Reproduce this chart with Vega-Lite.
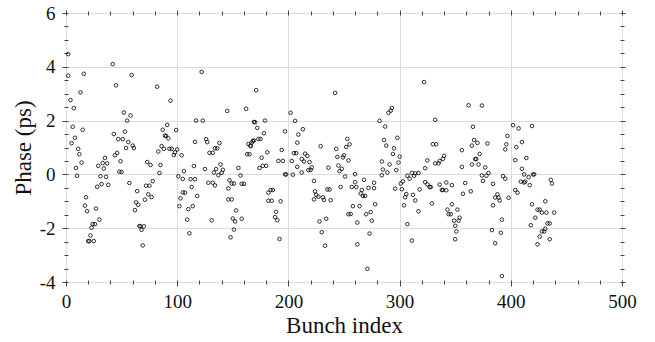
{
 "$schema": "https://vega.github.io/schema/vega-lite/v6.json",
 "width": 556, "height": 269,
 "autosize": {"type": "none"},
 "padding": {"left": 66, "top": 13, "right": 33, "bottom": 60},
 "background": "white",
 "config": {"view": {"stroke": "#444", "strokeWidth": 1}, "font": "Liberation Serif"},
 "data": {"values": [
  {"b":2,"p":4.47},{"b":2,"p":3.67},{"b":42,"p":4.10},{"b":16,"p":3.74},{"b":59,"p":3.69},{"b":45,"p":3.31},{"b":82,"p":3.26},{"b":13,"p":3.05},{"b":4,"p":2.76},{"b":7,"p":2.46},
  {"b":52,"p":2.30},{"b":58,"p":2.19},{"b":55,"p":2.00},{"b":6,"p":1.77},{"b":15,"p":1.66},{"b":43,"p":1.50},{"b":53,"p":1.59},{"b":8,"p":1.36},{"b":47,"p":1.31},{"b":51,"p":1.31},
  {"b":5,"p":1.16},{"b":56,"p":1.20},{"b":60,"p":1.07},{"b":61,"p":0.98},{"b":54,"p":0.98},{"b":11,"p":0.95},{"b":12,"p":0.75},{"b":46,"p":0.80},{"b":44,"p":0.71},{"b":35,"p":0.61},
  {"b":83,"p":0.85},{"b":49,"p":0.49},{"b":14,"p":0.44},{"b":33,"p":0.42},{"b":37,"p":0.41},{"b":29,"p":0.32},{"b":73,"p":0.46},{"b":76,"p":0.35},{"b":34,"p":0.22},{"b":9,"p":0.24},
  {"b":48,"p":0.10},{"b":50,"p":0.09},{"b":10,"p":-0.05},{"b":31,"p":-0.07},{"b":36,"p":-0.09},{"b":57,"p":-0.32},{"b":78,"p":-0.25},{"b":32,"p":-0.36},{"b":38,"p":-0.39},{"b":28,"p":-0.46},
  {"b":72,"p":-0.42},{"b":75,"p":-0.42},{"b":64,"p":-0.62},{"b":74,"p":-0.74},{"b":77,"p":-0.84},{"b":71,"p":-0.94},{"b":18,"p":-0.85},{"b":63,"p":-1.04},{"b":65,"p":-1.13},{"b":17,"p":-1.16},
  {"b":27,"p":-1.27},{"b":19,"p":-1.37},{"b":62,"p":-1.33},{"b":30,"p":-1.68},{"b":24,"p":-1.85},{"b":26,"p":-1.85},{"b":23,"p":-1.98},{"b":66,"p":-1.92},{"b":67,"p":-1.93},{"b":70,"p":-1.93},
  {"b":68,"p":-2.06},{"b":22,"p":-2.27},{"b":20,"p":-2.48},{"b":21,"p":-2.48},{"b":25,"p":-2.48},{"b":69,"p":-2.64},
  {"b":122,"p":3.81},{"b":94,"p":2.74},{"b":145,"p":2.36},{"b":162,"p":2.44},{"b":117,"p":2.00},{"b":123,"p":2.00},{"b":91,"p":1.84},{"b":87,"p":1.66},{"b":99,"p":1.65},{"b":169,"p":1.95},
  {"b":89,"p":1.44},{"b":90,"p":1.43},{"b":92,"p":1.34},{"b":126,"p":1.31},{"b":127,"p":1.20},{"b":116,"p":1.21},{"b":138,"p":1.17},{"b":86,"p":1.05},{"b":88,"p":0.95},{"b":93,"p":0.95},
  {"b":95,"p":0.95},{"b":100,"p":0.93},{"b":98,"p":0.82},{"b":97,"p":0.72},{"b":104,"p":0.71},{"b":134,"p":0.97},{"b":136,"p":0.97},{"b":129,"p":0.80},{"b":132,"p":0.80},{"b":164,"p":1.13},
  {"b":166,"p":1.07},{"b":168,"p":1.24},{"b":163,"p":0.75},{"b":165,"p":0.75},{"b":85,"p":0.35},{"b":115,"p":0.31},{"b":125,"p":0.20},{"b":139,"p":0.37},{"b":135,"p":0.20},{"b":141,"p":0.17},
  {"b":133,"p":0.07},{"b":106,"p":0.12},{"b":140,"p":0.06},{"b":155,"p":0.24},{"b":84,"p":0.05},{"b":137,"p":-0.03},{"b":157,"p":-0.04},{"b":101,"p":-0.07},{"b":105,"p":-0.17},{"b":112,"p":-0.18},
  {"b":116,"p":-0.18},{"b":128,"p":-0.31},{"b":132,"p":-0.31},{"b":134,"p":-0.41},{"b":147,"p":-0.22},{"b":149,"p":-0.34},{"b":151,"p":-0.34},{"b":158,"p":-0.35},{"b":160,"p":-0.35},{"b":113,"p":-0.47},
  {"b":146,"p":-0.52},{"b":105,"p":-0.67},{"b":107,"p":-0.68},{"b":118,"p":-0.80},{"b":103,"p":-0.89},{"b":146,"p":-0.93},{"b":149,"p":-0.93},{"b":102,"p":-1.18},{"b":114,"p":-1.18},{"b":110,"p":-1.29},
  {"b":153,"p":-1.34},{"b":109,"p":-1.68},{"b":131,"p":-1.71},{"b":150,"p":-1.64},{"b":158,"p":-1.65},{"b":152,"p":-1.75},{"b":151,"p":-2.05},{"b":111,"p":-2.19},{"b":148,"p":-2.34},
  {"b":171,"p":3.13},{"b":242,"p":3.03},{"b":202,"p":2.29},{"b":206,"p":1.99},{"b":170,"p":1.94},{"b":179,"p":2.00},{"b":172,"p":1.73},{"b":213,"p":1.68},{"b":197,"p":1.60},{"b":178,"p":1.53},
  {"b":209,"p":1.48},{"b":173,"p":1.32},{"b":175,"p":1.32},{"b":169,"p":1.26},{"b":167,"p":1.18},{"b":166,"p":1.05},{"b":208,"p":1.18},{"b":253,"p":1.32},{"b":252,"p":1.02},{"b":229,"p":1.05},
  {"b":243,"p":0.95},{"b":194,"p":0.91},{"b":181,"p":0.82},{"b":205,"p":0.79},{"b":207,"p":0.79},{"b":215,"p":0.77},{"b":217,"p":0.69},{"b":176,"p":0.62},{"b":212,"p":0.57},{"b":191,"p":0.50},
  {"b":195,"p":0.50},{"b":203,"p":0.50},{"b":214,"p":0.48},{"b":219,"p":0.46},{"b":244,"p":0.65},{"b":250,"p":0.71},{"b":249,"p":0.63},{"b":254,"p":0.52},{"b":177,"p":0.32},{"b":180,"p":0.32},
  {"b":174,"p":0.24},{"b":208,"p":0.28},{"b":221,"p":0.26},{"b":236,"p":0.25},{"b":245,"p":0.33},{"b":220,"p":0.17},{"b":218,"p":0.16},{"b":246,"p":0.12},{"b":248,"p":0.21},{"b":212,"p":0.07},
  {"b":197,"p":0.00},{"b":198,"p":0.00},{"b":204,"p":-0.01},{"b":251,"p":-0.08},{"b":223,"p":-0.24},{"b":247,"p":-0.47},{"b":235,"p":-0.56},{"b":237,"p":-0.56},{"b":184,"p":-0.58},{"b":186,"p":-0.58},
  {"b":182,"p":-0.68},{"b":224,"p":-0.63},{"b":225,"p":-0.76},{"b":227,"p":-0.83},{"b":231,"p":-0.85},{"b":223,"p":-0.93},{"b":232,"p":-0.95},{"b":238,"p":-0.96},{"b":182,"p":-0.98},{"b":185,"p":-0.98},
  {"b":193,"p":-1.00},{"b":189,"p":-1.39},{"b":188,"p":-1.59},{"b":190,"p":-1.70},{"b":234,"p":-1.65},{"b":228,"p":-1.75},{"b":254,"p":-1.48},{"b":230,"p":-2.15},{"b":192,"p":-2.40},{"b":233,"p":-2.65},
  {"b":322,"p":3.43},{"b":293,"p":2.47},{"b":292,"p":2.37},{"b":290,"p":2.29},{"b":282,"p":1.99},{"b":332,"p":2.03},{"b":287,"p":1.78},{"b":298,"p":1.36},{"b":286,"p":1.28},{"b":255,"p":1.12},
  {"b":288,"p":1.07},{"b":295,"p":0.97},{"b":330,"p":1.12},{"b":333,"p":1.12},{"b":294,"p":0.76},{"b":300,"p":0.66},{"b":284,"p":0.48},{"b":299,"p":0.44},{"b":325,"p":0.52},{"b":332,"p":0.41},
  {"b":335,"p":0.41},{"b":336,"p":0.50},{"b":340,"p":0.69},{"b":339,"p":0.58},{"b":291,"p":0.37},{"b":285,"p":0.18},{"b":289,"p":0.07},{"b":297,"p":0.16},{"b":323,"p":0.23},{"b":284,"p":-0.03},
  {"b":260,"p":0.01},{"b":311,"p":0.05},{"b":314,"p":0.04},{"b":317,"p":0.05},{"b":307,"p":-0.05},{"b":309,"p":-0.16},{"b":313,"p":-0.05},{"b":303,"p":-0.26},{"b":301,"p":-0.34},{"b":268,"p":-0.20},
  {"b":277,"p":-0.31},{"b":260,"p":-0.29},{"b":257,"p":-0.47},{"b":261,"p":-0.47},{"b":272,"p":-0.50},{"b":277,"p":-0.51},{"b":296,"p":-0.53},{"b":302,"p":-0.55},{"b":323,"p":-0.29},{"b":325,"p":-0.37},
  {"b":327,"p":-0.47},{"b":328,"p":-0.47},{"b":336,"p":-0.38},{"b":318,"p":-0.56},{"b":266,"p":-0.58},{"b":265,"p":-0.71},{"b":267,"p":-0.80},{"b":269,"p":-0.80},{"b":306,"p":-0.73},{"b":312,"p":-0.76},
  {"b":305,"p":-0.85},{"b":338,"p":-0.58},{"b":339,"p":-0.58},{"b":314,"p":-0.97},{"b":278,"p":-1.11},{"b":304,"p":-1.15},{"b":329,"p":-1.08},{"b":258,"p":-1.18},{"b":264,"p":-1.18},{"b":274,"p":-1.40},
  {"b":270,"p":-1.48},{"b":256,"p":-1.47},{"b":317,"p":-1.37},{"b":275,"p":-1.72},{"b":262,"p":-1.79},{"b":307,"p":-1.85},{"b":273,"p":-2.20},{"b":262,"p":-2.60},{"b":311,"p":-2.46},{"b":271,"p":-3.51},
  {"b":362,"p":2.57},{"b":374,"p":2.56},{"b":402,"p":1.83},{"b":407,"p":1.71},{"b":419,"p":1.80},{"b":366,"p":1.77},{"b":397,"p":1.43},{"b":367,"p":1.28},{"b":370,"p":1.17},{"b":365,"p":1.07},
  {"b":379,"p":1.15},{"b":396,"p":1.12},{"b":410,"p":1.20},{"b":395,"p":0.93},{"b":405,"p":1.01},{"b":356,"p":0.90},{"b":372,"p":0.76},{"b":368,"p":0.57},{"b":369,"p":0.57},{"b":414,"p":0.61},
  {"b":404,"p":0.53},{"b":365,"p":0.37},{"b":371,"p":0.37},{"b":377,"p":0.26},{"b":356,"p":0.28},{"b":410,"p":0.21},{"b":380,"p":0.05},{"b":374,"p":-0.04},{"b":378,"p":-0.05},{"b":393,"p":-0.06},
  {"b":395,"p":-0.16},{"b":412,"p":0.00},{"b":420,"p":0.00},{"b":421,"p":0.00},{"b":416,"p":-0.10},{"b":375,"p":-0.24},{"b":384,"p":-0.35},{"b":409,"p":-0.27},{"b":413,"p":-0.27},{"b":417,"p":-0.40},
  {"b":342,"p":-0.30},{"b":347,"p":-0.40},{"b":359,"p":-0.32},{"b":404,"p":-0.58},{"b":406,"p":-0.68},{"b":342,"p":-0.59},{"b":364,"p":-0.63},{"b":357,"p":-0.72},{"b":388,"p":-0.74},{"b":386,"p":-0.86},
  {"b":389,"p":-0.86},{"b":390,"p":-0.97},{"b":398,"p":-0.87},{"b":384,"p":-1.15},{"b":347,"p":-1.11},{"b":343,"p":-1.31},{"b":352,"p":-1.31},{"b":419,"p":-1.11},{"b":424,"p":-1.31},{"b":344,"p":-1.48},
  {"b":346,"p":-1.48},{"b":354,"p":-1.61},{"b":353,"p":-1.72},{"b":349,"p":-1.72},{"b":422,"p":-1.61},{"b":392,"p":-1.68},{"b":350,"p":-1.91},{"b":418,"p":-1.89},{"b":351,"p":-2.12},{"b":383,"p":-2.07},
  {"b":391,"p":-2.17},{"b":426,"p":-2.31},{"b":350,"p":-2.41},{"b":386,"p":-2.56},{"b":424,"p":-2.60},{"b":392,"p":-3.78},
  {"b":412,"p":-0.30},{"b":436,"p":-0.20},{"b":437,"p":-0.34},{"b":431,"p":-1.00},{"b":426,"p":-1.31},{"b":428,"p":-1.42},{"b":432,"p":-1.42},{"b":439,"p":-1.42},{"b":433,"p":-1.82},{"b":435,"p":-1.82},
  {"b":431,"p":-2.02},{"b":430,"p":-2.12},{"b":428,"p":-2.12},{"b":435,"p":-2.41}
 ]},
 "layer": [
  {
   "mark": {"type": "point", "shape": "circle", "filled": false, "color": "black", "size": 13, "strokeWidth": 0.8, "opacity": 1},
   "encoding": {
    "x": {"field": "b", "type": "quantitative", "scale": {"domain": [0, 500], "nice": false, "zero": false},
     "axis": {"orient": "bottom", "title": "Bunch index",
      "values": [0,20,40,60,80,100,120,140,160,180,200,220,240,260,280,300,320,340,360,380,400,420,440,460,480,500],
      "offset": -2, "domain": false,
      "tickSize": {"condition": {"test": "datum.value % 100 === 0", "value": 6}, "value": 4},
      "tickColor": "#444", "tickWidth": 1,
      "grid": true, "gridColor": "#dcdcdc", "gridWidth": 1,
      "gridOpacity": {"condition": {"test": "datum.value % 100 === 0", "value": 1}, "value": 0},
      "labelExpr": "datum.value % 100 === 0 ? format(datum.value, 'd') : ''",
      "labelOverlap": false, "labelFlush": false, "labelFont": "Liberation Serif", "labelFontSize": 19, "labelColor": "#111", "labelPadding": 6,
      "titleFont": "Liberation Serif", "titleFontSize": 23, "titleFontWeight": "normal", "titleColor": "#111", "titlePadding": 3}},
    "y": {"field": "p", "type": "quantitative", "scale": {"domain": [-4, 6], "nice": false, "zero": false},
     "axis": {"orient": "left", "title": "Phase (ps)",
      "values": [-4,-3.5,-3,-2.5,-2,-1.5,-1,-0.5,0,0.5,1,1.5,2,2.5,3,3.5,4,4.5,5,5.5,6],
      "offset": -2, "domain": false,
      "tickSize": {"condition": {"test": "datum.value % 2 === 0", "value": 6}, "value": 4},
      "tickColor": "#444", "tickWidth": 1,
      "grid": true, "gridColor": "#dcdcdc", "gridWidth": 1,
      "gridOpacity": {"condition": {"test": "datum.value % 2 === 0", "value": 1}, "value": 0},
      "labelExpr": "datum.value % 2 === 0 ? (datum.value < 0 ? '-' + abs(datum.value) : '' + datum.value) : ''",
      "labelOverlap": false, "labelFlush": false, "labelFont": "Liberation Serif", "labelFontSize": 19, "labelColor": "#111", "labelPadding": 7,
      "titleFont": "Liberation Serif", "titleFontSize": 23, "titleFontWeight": "normal", "titleColor": "#111", "titlePadding": 4}}
   }
  },
  {
   "mark": {"type": "point", "opacity": 0},
   "encoding": {
    "x": {"field": "b", "type": "quantitative",
     "axis": {"orient": "top", "title": null, "labels": false, "grid": false, "domain": false, "offset": -2,
      "values": [0,20,40,60,80,100,120,140,160,180,200,220,240,260,280,300,320,340,360,380,400,420,440,460,480,500],
      "tickSize": {"condition": {"test": "datum.value % 100 === 0", "value": 5}, "value": 4},
      "tickColor": "#444", "tickWidth": 1}},
    "y": {"field": "p", "type": "quantitative",
     "axis": {"orient": "right", "title": null, "labels": false, "grid": false, "domain": false, "offset": -2,
      "values": [-4,-3.5,-3,-2.5,-2,-1.5,-1,-0.5,0,0.5,1,1.5,2,2.5,3,3.5,4,4.5,5,5.5,6],
      "tickSize": {"condition": {"test": "datum.value % 2 === 0", "value": 5}, "value": 4},
      "tickColor": "#444", "tickWidth": 1}}
   }
  }
 ],
 "resolve": {"axis": {"x": "independent", "y": "independent"}}
}
